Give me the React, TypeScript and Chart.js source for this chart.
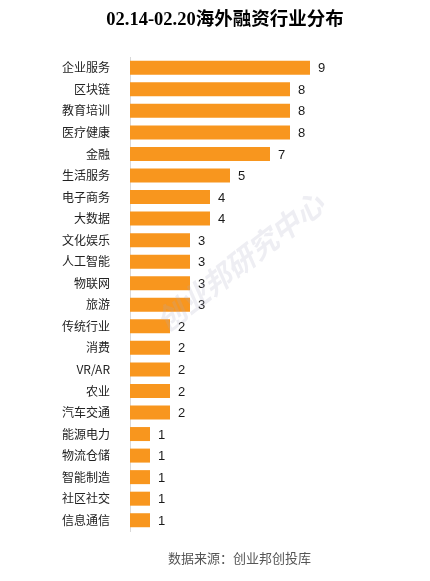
import React, { useEffect, useRef } from "react";
import { Chart, registerables } from "chart.js";

Chart.register(...registerables);

const titleText = "02.14-02.20海外融资行业分布";
const sourceText = "数据来源：创业邦创投库";
const watermarkText = "创业邦研究中心";

const categories = [
  "企业服务", "区块链", "教育培训", "医疗健康", "金融", "生活服务", "电子商务", "大数据",
  "文化娱乐", "人工智能", "物联网", "旅游", "传统行业", "消费", "VR/AR", "农业",
  "汽车交通", "能源电力", "物流仓储", "智能制造", "社区社交", "信息通信",
];
const counts = [9, 8, 8, 8, 7, 5, 4, 4, 3, 3, 3, 3, 2, 2, 2, 2, 2, 1, 1, 1, 1, 1];

const CJK = '"Noto Sans CJK SC", "Liberation Sans", sans-serif';

const decorPlugin = {
  id: "decor",
  afterDatasetsDraw(chart: any) {
    const ctx = chart.ctx;
    const meta = chart.getDatasetMeta(0);
    ctx.save();
    ctx.font = '13px "Liberation Sans", Arial, sans-serif';
    ctx.fillStyle = "#1a1a1a";
    ctx.textAlign = "left";
    ctx.textBaseline = "middle";
    meta.data.forEach((bar: any, i: number) => {
      ctx.fillText(String(counts[i]), bar.x + 8, bar.y + 1);
    });
    ctx.restore();
  },
  afterDraw(chart: any) {
    const ctx = chart.ctx;
    ctx.save();
    // title
    ctx.font = 'bold 18.5px "Liberation Serif", "Noto Sans CJK SC", serif';
    ctx.fillStyle = "#000";
    ctx.textAlign = "center";
    ctx.textBaseline = "middle";
    ctx.fillText(titleText, 225, 20);
    // source
    ctx.font = "13px " + CJK;
    ctx.fillStyle = "#555";
    ctx.textAlign = "left";
    ctx.fillText(sourceText, 168, 558);
    // watermark
    ctx.translate(240, 262);
    ctx.rotate((-38 * Math.PI) / 180);
    ctx.font = "bold italic 29px " + CJK;
    ctx.fillStyle = "rgba(170,170,195,0.2)";
    ctx.textAlign = "center";
    ctx.fillText(watermarkText, 0, 0);
    ctx.restore();
  },
};

export default function App() {
  const ref = useRef<HTMLCanvasElement | null>(null);
  useEffect(() => {
    document.body.style.margin = "0";
    const chart = new Chart(ref.current as HTMLCanvasElement, {
      type: "bar",
      data: {
        labels: categories,
        datasets: [
          {
            data: counts,
            backgroundColor: "#F8961E",
            barPercentage: 0.65,
            categoryPercentage: 1,
          },
        ],
      },
      options: {
        indexAxis: "y",
        animation: false,
        responsive: false,
        maintainAspectRatio: false,
        layout: { padding: { top: 57, bottom: 50, left: 0, right: 20 } },
        plugins: {
          legend: { display: false },
          tooltip: { enabled: false },
          title: { display: false },
        },
        scales: {
          x: { display: false, min: 0, max: 14 },
          y: {
            grid: { display: false, drawTicks: false },
            border: { display: true, color: "#d9d9d9", width: 1 },
            ticks: {
              padding: 20,
              color: "#222",
              font: { size: 12, family: CJK },
              autoSkip: false,
            },
            afterFit(scale: any) {
              scale.width = 130;
            },
          },
        },
      },
      plugins: [decorPlugin],
    } as any);
    return () => chart.destroy();
  }, []);
  return (
    <div style={{ width: 430, height: 581, background: "#fff" }}>
      <canvas ref={ref} width={430} height={581} style={{ display: "block" }} />
    </div>
  );
}
